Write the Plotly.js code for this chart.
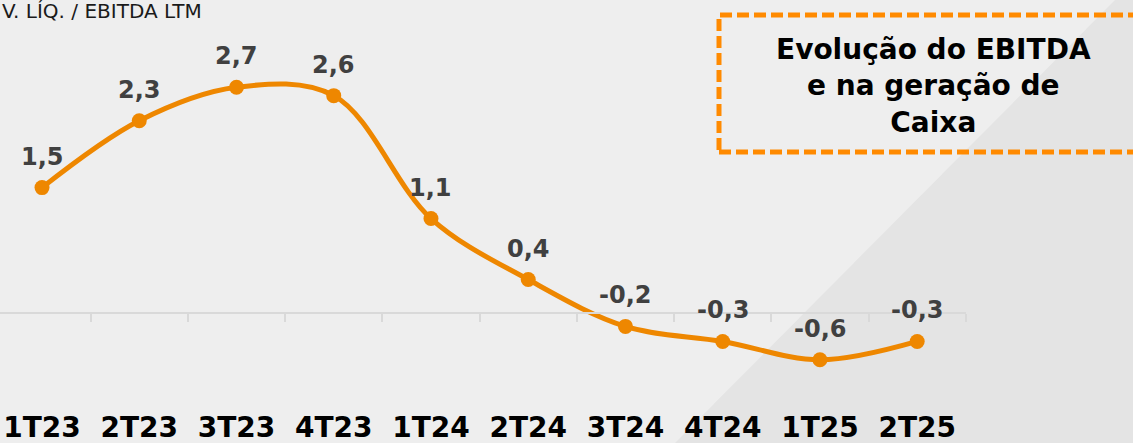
<!DOCTYPE html>
<html><head><meta charset="utf-8">
<script src="https://cdn.plot.ly/plotly-3.0.1.min.js"></script>
<style>html,body{margin:0;padding:0;background:#eeeeee;overflow:hidden;}#chart{width:1133px;height:443px;}</style>
</head><body><div id="chart"></div>
<script>
// ---- data ----
const quarters = ['1T23','2T23','3T23','4T23','1T24','2T24','3T24','4T24','1T25','2T25'];
const netDebtToEbitda = [1.5, 2.3, 2.7, 2.6, 1.13, 0.4, -0.16, -0.34, -0.56, -0.34];
const valueLabels = netDebtToEbitda.map(v => v.toFixed(1).replace('.', ','));
const cornerTitle = 'V. LÍQ. / EBITDA LTM';
const boxText = 'Evolução do EBITDA<br>e na geração de<br>Caixa';

// ---- geometry helpers ----
const W = 1133, H = 443, ML = 0, MR = 167;
const PW = W - ML - MR;
const yMin = -1.555, yMax = 3.744;
const px = x => (x - ML) / PW;
const py = y => 1 - y / H;
const FONT = 'DejaVu Sans, Verdana, sans-serif';
const ORANGE = '#EE8700';

const trace = {
  type: 'scatter', mode: 'lines+markers',
  x: quarters, y: netDebtToEbitda,
  line: {color: ORANGE, width: 5, shape: 'spline', smoothing: 1},
  marker: {color: ORANGE, size: 15},
  cliponaxis: false, hoverinfo: 'skip'
};

const labelAnn = quarters.map((q, i) => ({
  x: q, y: netDebtToEbitda[i], xref: 'x', yref: 'y',
  text: valueLabels[i], showarrow: false, yshift: 31, yanchor: 'middle',
  font: {family: FONT, size: 24, color: '#404040', weight: 'bold'}
}));

const layout = {
  width: W, height: H,
  margin: {l: ML, r: MR, t: 0, b: 0},
  paper_bgcolor: '#eeeeee', plot_bgcolor: 'rgba(0,0,0,0)',
  showlegend: false,
  font: {family: FONT},
  xaxis: {
    type: 'category', range: [-0.432, 9.502],
    anchor: 'free', position: (0 - yMin) / (yMax - yMin),
    showline: true, linecolor: '#d9d9d9', linewidth: 2,
    ticks: 'outside', tickson: 'boundaries', ticklen: 8, tickwidth: 2, tickcolor: '#d9d9d9',
    showgrid: false, zeroline: false,
    ticklabelstandoff: 89,
    tickfont: {family: FONT, size: 28, color: '#000000', weight: 'bold'}
  },
  yaxis: {range: [yMin, yMax], visible: false, showgrid: false, zeroline: false},
  shapes: [
    {type: 'path', xref: 'paper', yref: 'paper', layer: 'below',
     path: `M ${px(1115)} ${py(0)} L ${px(1140)} ${py(0)} L ${px(1140)} ${py(443)} L ${px(675)} ${py(443)} Z`,
     fillcolor: '#e4e4e4', line: {width: 0}},
    {type: 'rect', xref: 'paper', yref: 'paper', layer: 'above',
     x0: px(719), x1: px(1150), y0: py(152), y1: py(15),
     line: {color: '#FF8A00', width: 5, dash: '12px,5px'}, fillcolor: 'rgba(0,0,0,0)'}
  ],
  annotations: labelAnn.concat([
    {xref: 'paper', yref: 'paper', x: px(0), y: py(11), xanchor: 'left', yanchor: 'middle',
     text: cornerTitle, showarrow: false,
     font: {family: FONT, size: 20, color: '#1a1a1a'}},
    {xref: 'paper', yref: 'paper', x: px(933), y: py(86), xanchor: 'center', yanchor: 'middle',
     text: boxText, showarrow: false, align: 'center',
     font: {family: FONT, size: 28, color: '#000000', weight: 'bold'}}
  ])
};

Plotly.newPlot('chart', [trace], layout, {displayModeBar: false, staticPlot: true});
</script>
</body></html>
